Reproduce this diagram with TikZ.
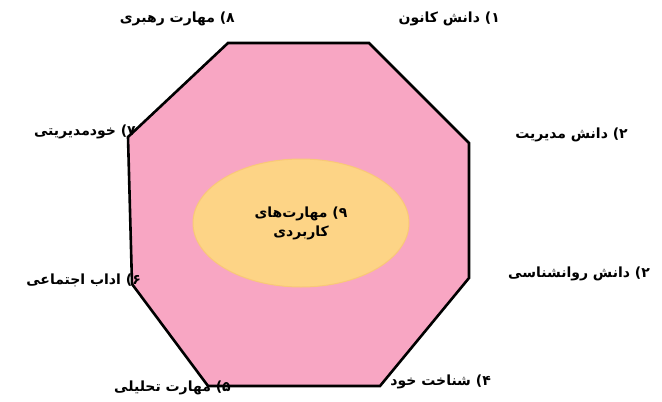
\documentclass[tikz,border=0pt]{standalone}
\usepackage{fontspec}
\usepackage{tikz}
\usetikzlibrary{positioning,shapes.geometric}
\TeXXeTstate=1
\newfontfamily\farsi[Script=Arabic]{DejaVu Sans}
\definecolor{octPink}{HTML}{F8A6C3}
\definecolor{corePeach}{HTML}{FDD486}
\definecolor{coreEdge}{HTML}{F9C878}

\begin{document}
\begin{tikzpicture}[
  x=1pt, y=-1pt,
  lbl/.style={inner sep=1pt,font=\farsi\bfseries\fontsize{14}{16}\selectfont},
  octa/.style={fill=octPink,draw=black,line width=2.6pt,line join=miter}
]
\useasboundingbox (0,0) rectangle (662,402);

% octagon corners
\coordinate (v1) at (228,43);
\coordinate (v2) at (369,43);
\coordinate (v3) at (469,143);
\coordinate (v4) at (469,278);
\coordinate (v5) at (380,386);
\coordinate (v6) at (208,386);
\coordinate (v7) at (132,284);
\coordinate (v8) at (128,137);
\draw[octa] (v1) -- (v2) -- (v3) -- (v4) -- (v5) -- (v6) -- (v7) -- (v8) -- cycle;

% inner ellipse
\node[ellipse,draw=coreEdge,fill=corePeach,line width=1pt,minimum width=216,minimum height=128] (core) at (301,223) {};
\node[lbl,align=center] (c9) at (core) {\beginR ۹) مهارت‌های\endR\\[3pt]\beginR کاربردی\endR};

% labels round the octagon
\node[lbl,anchor=east] (l8) at (236,19) {\beginR ۸) مهارت رهبری\endR};
\node[lbl,anchor=east] (l1) at (501,19) {\beginR ۱) دانش کانون\endR};
\node[lbl,anchor=east] (l7) at (137,132) {\beginR ۷) خودمدیریتی\endR};
\node[lbl,anchor=east] (l2) at (629,135) {\beginR ۲) دانش مدیریت\endR};
\node[lbl,anchor=east] (l6) at (142,280) {\beginR ۶) اداب اجتماعی\endR};
\node[lbl,anchor=east] (l3) at (651,274) {\beginR ۲) دانش روانشناسی\endR};
\node[lbl,anchor=east] (l5) at (232,388) {\beginR ۵) مهارت تحلیلی\endR};
\node[lbl,anchor=east] (l4) at (492,382) {\beginR ۴) شناخت خود\endR};
\end{tikzpicture}
\end{document}
